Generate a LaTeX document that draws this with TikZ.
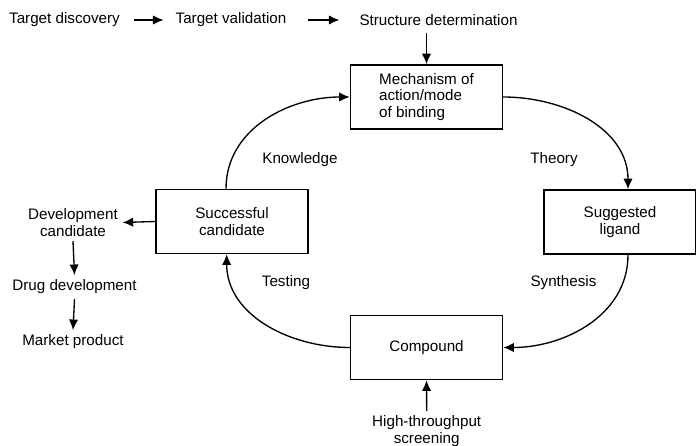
\documentclass[tikz,border=0pt]{standalone}
\usepackage{fontspec}
\setmainfont{Liberation Sans}
\usepackage{tikz}
\usetikzlibrary{shapes,arrows.meta}

\begin{document}
\begin{tikzpicture}[x=0.75pt, y=0.75pt,
  every node/.style={font=\fontsize{11.4pt}{12.5pt}\selectfont},
  stagebox/.style={draw, rectangle, line width=1.1pt, minimum width=114pt, minimum height=48pt},
  flow/.style={line width=1pt, -{Latex[length=8pt,width=7pt]}}]
\useasboundingbox (0,0) rectangle (696,446);
% top row
\node (disc) at (64.5,426) {Target discovery};
\node (valid) at (231,426) {Target validation};
\node (struct) at (438.5,426) {Structure determination};
% cycle
\node (mech) [stagebox, align=left] at (426.5,349) {Mechanism of\\action/mode\\of binding};
\node (ligand) [stagebox, align=center] at (620,224) {Suggested\\ligand};
\node (cmpd) [stagebox] at (426.5,98.5) {Compound};
\node (succ) [stagebox, align=center] at (232,224.5) {Successful\\candidate};
\node (hts) [align=center] at (426.7,15) {High-throughput\\screening};
% left column
\node (devcand) [align=center] at (73,223.5) {Development\\candidate};
\node (drugdev) at (74.5,159) {Drug development};
\node (market) at (73,104) {Market product};
% labels
\node (know) at (300,286) {Knowledge};
\node (theory) at (554,286) {Theory};
\node (testing) at (286,163) {Testing};
\node (synth) at (563.5,163) {Synthesis};

\draw[flow, shorten <=7pt, shorten >=5.5pt] (disc) -- (valid);
\draw[flow, shorten <=12.5pt, shorten >=11.5pt] (valid) -- (struct);
\draw[flow, shorten <=2pt] (struct.south -| mech.north) -- (mech.north);
\draw[flow] (mech.east) to[out=0, in=90] ([xshift=6pt]ligand.north);
\draw[flow] ([xshift=6pt]ligand.south) to[out=-90, in=0] (cmpd.east);
\draw[flow] (cmpd.west) to[out=180, in=-90] ([xshift=-4pt]succ.south);
\draw[flow] ([xshift=-4.5pt]succ.north) to[out=90, in=180] (mech.west);
\draw[flow] (hts.north) -- (cmpd.south);
\draw[flow] (succ.west) -- (devcand.east);
\draw[flow] (devcand.south) -- (drugdev.north);
\draw[flow] (drugdev.south) -- (market.north);
\end{tikzpicture}
\end{document}
